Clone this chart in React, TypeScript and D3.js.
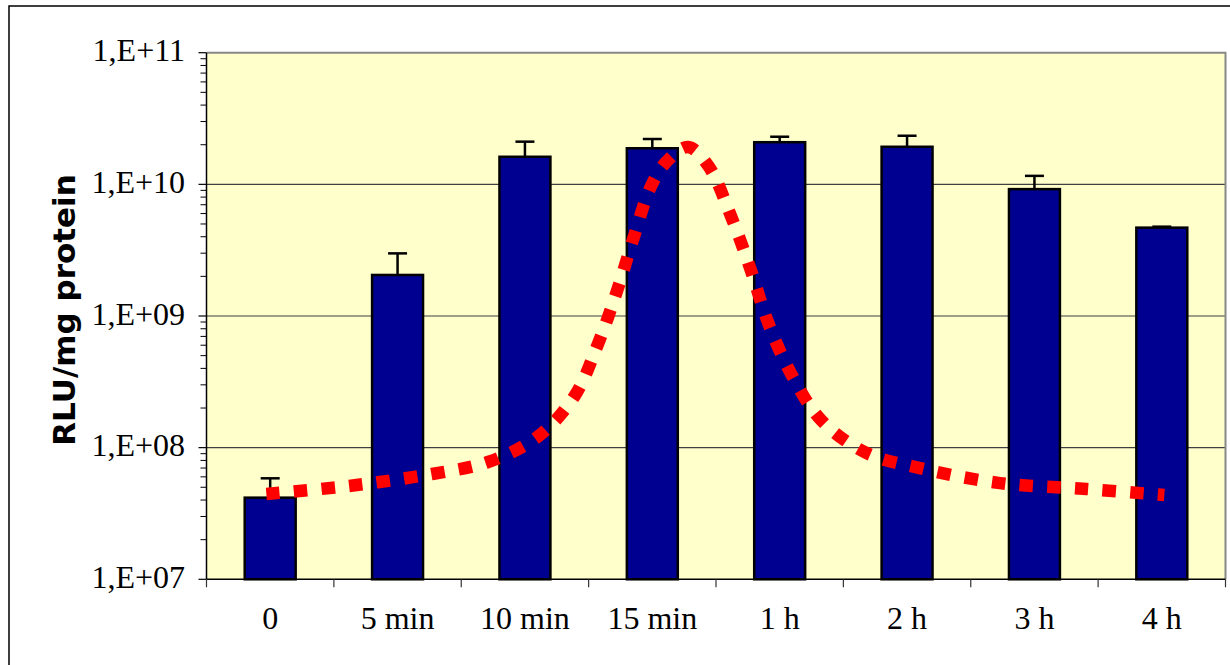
import React from 'react';
import * as d3 from 'd3';

// categories + bar values (RLU/mg protein)
const categories = ['0', '5 min', '10 min', '15 min', '1 h', '2 h', '3 h', '4 h'];
const barValues = [4.17e7, 2.05e9, 1.62e10, 1.88e10, 2.09e10, 1.93e10, 9.2e9, 4.69e9];
const errorTops = [5.85e7, 2.99e9, 2.11e10, 2.21e10, 2.3e10, 2.34e10, 1.16e10, 4.77e9];

// red dotted trend curve: position in category units (0 = first category centre) and value
const curvePos = [-0.03, 0.62, 1.27, 1.71, 2.1, 2.39, 2.57, 2.72, 2.85, 2.99, 3.11, 3.28, 3.44, 3.62, 3.77, 3.91, 4.09, 4.33, 4.68, 5.1, 5.73, 6.41, 7.02];
const curveValues = [4.45e7, 5.12e7, 6.31e7, 7.78e7, 1.21e8, 2.47e8, 6.01e8, 1.52e9, 3.85e9, 9.7e9, 1.48e10, 1.92e10, 1.38e10, 5.66e9, 2.28e9, 8.87e8, 3.63e8, 1.6e8, 9.12e7, 7.0e7, 5.38e7, 4.85e7, 4.37e7];

const yTicks = [1e7, 1e8, 1e9, 1e10, 1e11];
const yTickLabels = ['1,E+07', '1,E+08', '1,E+09', '1,E+10', '1,E+11'];

const W = 1230;
const H = 665;
const left = 206.5;
const right = 1225.5;
const top = 52.7;
const bottom = 579.3;

const serif = '"Liberation Serif", "Times New Roman", serif';

export default function App() {
  const y = d3.scaleLog().domain([1e7, 1e11]).range([bottom, top]);
  const x = d3.scaleBand<string>().domain(categories).range([left, right]).paddingInner(0.6).paddingOuter(0.3);
  const xPos = d3.scaleLinear().domain([-0.5, categories.length - 0.5]).range([left, right]);

  // minor ticks 2..9 in each decade
  const minor: number[] = [];
  for (let e = 7; e < 11; e++) for (let m = 2; m <= 9; m++) minor.push(m * Math.pow(10, e));

  const bounds = d3.range(categories.length + 1).map(i => xPos(i - 0.5));

  const line = d3.line<number>()
    .x((_, i) => xPos(curvePos[i]))
    .y(d => y(d))
    .curve(d3.curveCatmullRom.alpha(0.5));

  const bw = x.bandwidth();

  return (
    <div style={{ position: 'absolute', left: 0, top: 0 }}>
      <svg width={W} height={H} style={{ display: 'block' }}>
        <rect x={0} y={0} width={W} height={H} fill="#fff" />
        <rect x={9} y={6} width={W + 20} height={H + 20} fill="none" stroke="#000" strokeWidth={1.5} />

        {/* plot area */}
        <rect x={left} y={top} width={right - left} height={bottom - top} fill="#FFFFCC" />
        {[1e8, 1e9, 1e10].map(v => (
          <line key={v} x1={left} x2={right} y1={y(v)} y2={y(v)} stroke="#404040" strokeWidth={1.2} />
        ))}
        <polyline points={`${left},${top} ${right},${top} ${right},${bottom}`} fill="none" stroke="#888" strokeWidth={2} />

        {/* bars */}
        {categories.map((c, i) => (
          <g key={c}>
            <line x1={x(c)! + bw / 2} x2={x(c)! + bw / 2} y1={y(barValues[i])} y2={y(errorTops[i])} stroke="#000" strokeWidth={2.5} />
            <line x1={x(c)! + bw / 2 - 9.5} x2={x(c)! + bw / 2 + 9.5} y1={y(errorTops[i])} y2={y(errorTops[i])} stroke="#000" strokeWidth={2.5} />
            <rect x={x(c)} y={y(barValues[i])} width={bw} height={bottom - y(barValues[i])} fill="#000090" stroke="#000" strokeWidth={2.5} />
          </g>
        ))}

        {/* dotted curve */}
        <path d={line(curveValues) || ''} fill="none" stroke="#FF0000" strokeWidth={12.5} strokeDasharray="13.5 14.2" />

        {/* y axis */}
        <line x1={left} x2={left} y1={top} y2={bottom} stroke="#000" strokeWidth={1.5} />
        {minor.map(v => (
          <line key={v} x1={left - 6} x2={left} y1={y(v)} y2={y(v)} stroke="#000" strokeWidth={1} />
        ))}
        {yTicks.map((v, i) => (
          <g key={v}>
            <line x1={left - 8} x2={left} y1={y(v)} y2={y(v)} stroke="#000" strokeWidth={1.2} />
            <text x={185} y={y(v) + 8.5} textAnchor="end" fontFamily={serif} fontSize={32} fill="#000">{yTickLabels[i]}</text>
          </g>
        ))}

        {/* x axis */}
        <line x1={left} x2={right} y1={bottom} y2={bottom} stroke="#000" strokeWidth={1.5} />
        {bounds.map((bx, i) => (
          <line key={i} x1={bx} x2={bx} y1={bottom} y2={bottom + 8} stroke="#333" strokeWidth={1.2} />
        ))}
        {categories.map(c => (
          <text key={c} x={x(c)! + bw / 2} y={629} textAnchor="middle" fontFamily={serif} fontSize={32} fill="#000">{c}</text>
        ))}

        <text transform={`translate(75,310) rotate(-90)`} textAnchor="middle" fontFamily='"DejaVu Sans", Verdana, sans-serif' fontWeight="bold" fontSize={31} fill="#000">RLU/mg protein</text>
      </svg>
    </div>
  );
}
